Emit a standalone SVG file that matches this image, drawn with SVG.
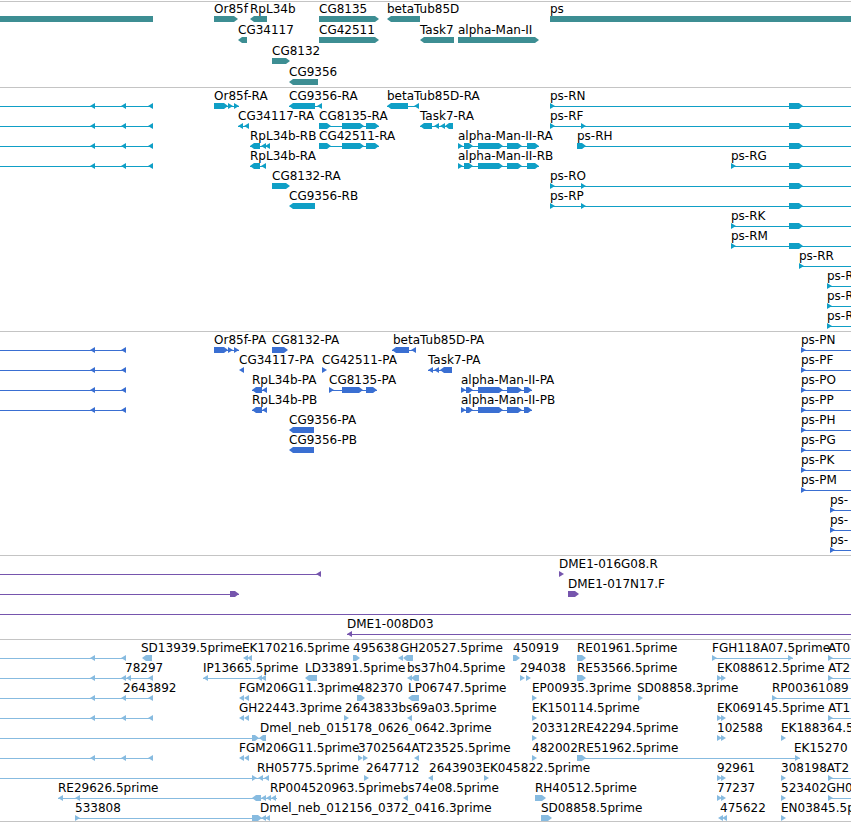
<svg xmlns="http://www.w3.org/2000/svg" xmlns:xlink="http://www.w3.org/1999/xlink" width="851" height="823" viewBox="0 0 851 823">
<style>
text{font-family:"DejaVu Sans","Liberation Sans",sans-serif;font-size:12px;fill:#000}
.g{fill:#3d8e93}
.t{fill:#0f9fc6}.tk{stroke:#0f9fc6;fill:none;shape-rendering:crispEdges}
.p{fill:#3a6fd2}.pk{stroke:#3a6fd2;fill:none;shape-rendering:crispEdges}
.c{fill:#7655ad}.ck{stroke:#7655ad;fill:none;shape-rendering:crispEdges}
.e{fill:#87bbe0}.ek{stroke:#87bbe0;fill:none;shape-rendering:crispEdges}
.sep{stroke:#c4c4c4;fill:none}
</style>
<defs>
<path id="rt" d="M0 -3L5 0L0 3Z"/>
<path id="lt" d="M5 -3L0 0L5 3Z"/>
</defs>
<rect width="851" height="823" fill="#fff"/>
<g id="separators">
<path class="sep" d="M0 1.5H851M0 87.5H851M0 331.5H851M0 555.5H851M0 639.5H851M0 821.5H851"/>
</g>

<!-- Gene track -->
<g id="genes">
<g id="gene-left"><path class="g" d="M0 16H153V22H0Z"/></g>
<g id="Or85f"><text x="214" y="13">Or85f</text><path class="g" d="M214 16H234L238 19L234 22H214Z"/></g>
<g id="RpL34b"><text x="250" y="13">RpL34b</text><path class="g" d="M267 16H254L250 19L254 22H267Z"/></g>
<g id="CG8135"><text x="319" y="13">CG8135</text><path class="g" d="M319 16H375L379 19L375 22H319Z"/></g>
<g id="betaTub85D"><text x="387" y="13">betaTub85D</text><path class="g" d="M420 16H391L387 19L391 22H420Z"/></g>
<g id="ps"><text x="550" y="13">ps</text><path class="g" d="M550 16H851V22H550Z"/></g>
<g id="CG34117"><text x="238" y="34">CG34117</text><path class="g" d="M247 37H242L238 40L242 43H247Z"/></g>
<g id="CG42511"><text x="319" y="34">CG42511</text><path class="g" d="M319 37H375L379 40L375 43H319Z"/></g>
<g id="Task7"><text x="420" y="34">Task7</text><path class="g" d="M454 37H424L420 40L424 43H454Z"/></g>
<g id="alpha-Man-II"><text x="458" y="34">alpha-Man-II</text><path class="g" d="M458 37H535L539 40L535 43H458Z"/></g>
<g id="CG8132"><text x="272" y="55">CG8132</text><path class="g" d="M272 58H286L290 61L286 64H272Z"/></g>
<g id="CG9356"><text x="289" y="76">CG9356</text><path class="g" d="M318 79H293L289 82L293 85H318Z"/></g>
</g>

<!-- Transcript track -->
<g id="transcripts">
<g id="tx-left1"><path class="tk" d="M0 106H153"/><use href="#lt" x="90" y="106" class="t"/><use href="#lt" x="121" y="106" class="t"/><use href="#lt" x="148" y="106" class="t"/></g>
<g id="tx-left2"><path class="tk" d="M0 126H153"/><use href="#lt" x="90" y="126" class="t"/><use href="#lt" x="121" y="126" class="t"/><use href="#lt" x="148" y="126" class="t"/></g>
<g id="tx-left3"><path class="tk" d="M0 146H153"/><use href="#lt" x="90" y="146" class="t"/><use href="#lt" x="121" y="146" class="t"/><use href="#lt" x="148" y="146" class="t"/></g>
<g id="tx-left4"><path class="tk" d="M0 166H153"/><use href="#lt" x="90" y="166" class="t"/><use href="#lt" x="121" y="166" class="t"/><use href="#lt" x="148" y="166" class="t"/></g>

<g id="Or85f-RA"><text x="214" y="100">Or85f-RA</text><path class="tk" d="M214 106H239"/><path class="t" d="M214 103H224L228 106L224 109H214Z"/><use href="#rt" x="228" y="106" class="t"/><use href="#rt" x="234" y="106" class="t"/></g>
<g id="CG9356-RA"><text x="289" y="100">CG9356-RA</text><path class="tk" d="M289 106H321"/><path class="t" d="M315 103H293L289 106L293 109H315Z"/><use href="#lt" x="317" y="106" class="t"/></g>
<g id="betaTub85D-RA"><text x="387" y="100">betaTub85D-RA</text><path class="tk" d="M387 106H419"/><path class="t" d="M408 103H391L387 106L391 109H408Z"/><use href="#lt" x="414" y="106" class="t"/></g>
<g id="ps-RN"><text x="550" y="100">ps-RN</text><path class="tk" d="M550 106H851"/><use href="#rt" x="550" y="106" class="t"/><path class="t" d="M789 103H799L803 106L799 109H789Z"/></g>

<g id="CG34117-RA"><text x="238" y="120">CG34117-RA</text><path class="tk" d="M238 126H249"/><use href="#lt" x="238" y="126" class="t"/><use href="#lt" x="244" y="126" class="t"/></g>
<g id="CG8135-RA"><text x="319" y="120">CG8135-RA</text><path class="tk" d="M319 126H379"/><path class="t" d="M319 123H327L331 126L327 129H319ZM342 123H360L364 126L360 129H342ZM366 123H375L379 126L375 129H366Z"/></g>
<g id="Task7-RA"><text x="420" y="120">Task7-RA</text><path class="tk" d="M420 126H453"/><path class="t" d="M432 123H424L420 126L424 129H432ZM453 123H449L445 126L449 129H453Z"/><use href="#lt" x="434" y="126" class="t"/><use href="#lt" x="440" y="126" class="t"/></g>
<g id="ps-RF"><text x="550" y="120">ps-RF</text><path class="tk" d="M550 126H851"/><use href="#rt" x="550" y="126" class="t"/><use href="#rt" x="581" y="126" class="t"/><path class="t" d="M789 123H799L803 126L799 129H789Z"/></g>

<g id="RpL34b-RB"><text x="250" y="140">RpL34b-RB</text><path class="tk" d="M250 146H270"/><path class="t" d="M260 143H254L250 146L254 149H260Z"/><use href="#lt" x="261" y="146" class="t"/><use href="#lt" x="265" y="146" class="t"/></g>
<g id="CG42511-RA"><text x="319" y="140">CG42511-RA</text><path class="tk" d="M319 146H379"/><path class="t" d="M319 143H327L331 146L327 149H319ZM342 143H360L364 146L360 149H342ZM366 143H375L379 146L375 149H366Z"/></g>
<g id="alpha-Man-II-RA"><text x="458" y="140">alpha-Man-II-RA</text><path class="tk" d="M458 146H539"/><use href="#rt" x="458" y="146" class="t"/><path class="t" d="M464 143H469L473 146L469 149H464ZM478 143H499L503 146L499 149H478ZM507 143H518L522 146L518 149H507ZM527 143H535L539 146L535 149H527Z"/></g>
<g id="ps-RH"><text x="577" y="140">ps-RH</text><path class="tk" d="M577 146H851"/><path class="t" d="M577 143H582L586 146L582 149H577ZM789 143H799L803 146L799 149H789Z"/></g>

<g id="RpL34b-RA"><text x="250" y="160">RpL34b-RA</text><path class="tk" d="M250 166H266"/><path class="t" d="M260 163H254L250 166L254 169H260Z"/><use href="#lt" x="261" y="166" class="t"/></g>
<g id="alpha-Man-II-RB"><text x="458" y="160">alpha-Man-II-RB</text><path class="tk" d="M458 166H539"/><use href="#rt" x="458" y="166" class="t"/><path class="t" d="M464 163H469L473 166L469 169H464ZM478 163H499L503 166L499 169H478ZM507 163H518L522 166L518 169H507ZM527 163H535L539 166L535 169H527Z"/></g>
<g id="ps-RG"><text x="731" y="160">ps-RG</text><path class="tk" d="M731 166H851"/><use href="#rt" x="731" y="166" class="t"/><path class="t" d="M789 163H799L803 166L799 169H789Z"/></g>

<g id="CG8132-RA"><text x="272" y="180">CG8132-RA</text><path class="t" d="M272 183H286L290 186L286 189H272Z"/></g>
<g id="ps-RO"><text x="550" y="180">ps-RO</text><path class="tk" d="M550 186H851"/><use href="#rt" x="550" y="186" class="t"/><use href="#rt" x="581" y="186" class="t"/><path class="t" d="M789 183H799L803 186L799 189H789Z"/></g>
<g id="CG9356-RB"><text x="289" y="200">CG9356-RB</text><path class="t" d="M315 203H293L289 206L293 209H315Z"/></g>
<g id="ps-RP"><text x="550" y="200">ps-RP</text><path class="tk" d="M550 206H851"/><use href="#rt" x="550" y="206" class="t"/><use href="#rt" x="581" y="206" class="t"/><path class="t" d="M789 203H799L803 206L799 209H789Z"/></g>
<g id="ps-RK"><text x="731" y="220">ps-RK</text><path class="tk" d="M731 226H851"/><use href="#rt" x="731" y="226" class="t"/><path class="t" d="M789 223H799L803 226L799 229H789Z"/></g>
<g id="ps-RM"><text x="731" y="240">ps-RM</text><path class="tk" d="M731 246H851"/><use href="#rt" x="731" y="246" class="t"/><path class="t" d="M789 243H799L803 246L799 249H789Z"/></g>
<g id="ps-RR"><text x="799" y="260">ps-RR</text><path class="tk" d="M799 266H851"/><use href="#rt" x="799" y="266" class="t"/></g>
<g id="ps-R1"><text x="827" y="280">ps-R</text><path class="tk" d="M827 286H851"/><use href="#rt" x="827" y="286" class="t"/></g>
<g id="ps-R2"><text x="827" y="300">ps-R</text><path class="tk" d="M827 306H851"/><use href="#rt" x="827" y="306" class="t"/></g>
<g id="ps-R3"><text x="827" y="320">ps-R</text><path class="tk" d="M827 326H851"/><use href="#rt" x="827" y="326" class="t"/></g>
</g>

<!-- Protein track -->
<g id="proteins">
<g id="pr-left1"><path class="pk" d="M0 350H126"/><use href="#lt" x="90" y="350" class="p"/><use href="#lt" x="121" y="350" class="p"/></g>
<g id="pr-left2"><path class="pk" d="M0 370H126"/><use href="#lt" x="90" y="370" class="p"/><use href="#lt" x="121" y="370" class="p"/></g>
<g id="pr-left3"><path class="pk" d="M0 390H126"/><use href="#lt" x="90" y="390" class="p"/><use href="#lt" x="121" y="390" class="p"/></g>
<g id="pr-left4"><path class="pk" d="M0 410H126"/><use href="#lt" x="90" y="410" class="p"/><use href="#lt" x="121" y="410" class="p"/></g>

<g id="Or85f-PA"><text x="214" y="344">Or85f-PA</text><path class="pk" d="M214 350H239"/><path class="p" d="M214 347H224L228 350L224 353H214Z"/><use href="#rt" x="228" y="350" class="p"/><use href="#rt" x="234" y="350" class="p"/></g>
<g id="CG8132-PA"><text x="272" y="344">CG8132-PA</text><path class="p" d="M272 347H284L288 350L284 353H272Z"/></g>
<g id="betaTub85D-PA"><text x="393" y="344">betaTub85D-PA</text><path class="pk" d="M392 350H416"/><path class="p" d="M409 347H396L392 350L396 353H409Z"/><use href="#lt" x="411" y="350" class="p"/></g>
<g id="ps-PN"><text x="801" y="344">ps-PN</text><path class="pk" d="M801 350H851"/><use href="#rt" x="801" y="350" class="p"/></g>

<g id="CG34117-PA"><text x="239" y="364">CG34117-PA</text><use href="#lt" x="239" y="370" class="p"/></g>
<g id="CG42511-PA"><text x="322" y="364">CG42511-PA</text><use href="#rt" x="322" y="370" class="p"/></g>
<g id="Task7-PA"><text x="428" y="364">Task7-PA</text><path class="pk" d="M428 370H452"/><use href="#lt" x="428" y="370" class="p"/><use href="#lt" x="434" y="370" class="p"/><path class="p" d="M452 367H444L440 370L444 373H452Z"/></g>
<g id="ps-PF"><text x="801" y="364">ps-PF</text><path class="pk" d="M801 370H851"/><use href="#rt" x="801" y="370" class="p"/></g>

<g id="RpL34b-PA"><text x="252" y="384">RpL34b-PA</text><path class="pk" d="M252 390H267"/><path class="p" d="M262 387H256L252 390L256 393H262Z"/><use href="#lt" x="262" y="390" class="p"/></g>
<g id="CG8135-PA"><text x="329" y="384">CG8135-PA</text><path class="pk" d="M329 390H377"/><use href="#rt" x="329" y="390" class="p"/><path class="p" d="M342 387H359L363 390L359 393H342ZM366 387H373L377 390L373 393H366Z"/></g>
<g id="alpha-Man-II-PA"><text x="461" y="384">alpha-Man-II-PA</text><path class="pk" d="M461 390H532"/><use href="#rt" x="461" y="390" class="p"/><path class="p" d="M466 387H469L473 390L469 393H466ZM478 387H499L503 390L499 393H478ZM507 387H518L522 390L518 393H507ZM524 387H528L532 390L528 393H524Z"/></g>
<g id="ps-PO"><text x="801" y="384">ps-PO</text><path class="pk" d="M801 390H851"/><use href="#rt" x="801" y="390" class="p"/></g>

<g id="RpL34b-PB"><text x="252" y="404">RpL34b-PB</text><path class="pk" d="M252 410H267"/><path class="p" d="M262 407H256L252 410L256 413H262Z"/><use href="#lt" x="262" y="410" class="p"/></g>
<g id="alpha-Man-II-PB"><text x="461" y="404">alpha-Man-II-PB</text><path class="pk" d="M461 410H532"/><use href="#rt" x="461" y="410" class="p"/><path class="p" d="M466 407H469L473 410L469 413H466ZM478 407H499L503 410L499 413H478ZM507 407H518L522 410L518 413H507ZM524 407H528L532 410L528 413H524Z"/></g>
<g id="ps-PP"><text x="801" y="404">ps-PP</text><path class="pk" d="M801 410H851"/><use href="#rt" x="801" y="410" class="p"/></g>

<g id="CG9356-PA"><text x="289" y="424">CG9356-PA</text><path class="p" d="M314 427H293L289 430L293 433H314Z"/></g>
<g id="ps-PH"><text x="801" y="424">ps-PH</text><path class="pk" d="M801 430H851"/><use href="#rt" x="801" y="430" class="p"/></g>
<g id="CG9356-PB"><text x="289" y="444">CG9356-PB</text><path class="p" d="M314 447H293L289 450L293 453H314Z"/></g>
<g id="ps-PG"><text x="801" y="444">ps-PG</text><path class="pk" d="M801 450H851"/><use href="#rt" x="801" y="450" class="p"/></g>
<g id="ps-PK"><text x="801" y="464">ps-PK</text><path class="pk" d="M801 470H851"/><use href="#rt" x="801" y="470" class="p"/></g>
<g id="ps-PM"><text x="801" y="484">ps-PM</text><path class="pk" d="M801 490H851"/><use href="#rt" x="801" y="490" class="p"/></g>
<g id="ps-P1"><text x="830" y="504">ps-</text><path class="pk" d="M830 510H851"/><use href="#rt" x="830" y="510" class="p"/></g>
<g id="ps-P2"><text x="830" y="524">ps-</text><path class="pk" d="M830 530H851"/><use href="#rt" x="830" y="530" class="p"/></g>
<g id="ps-P3"><text x="830" y="544">ps-</text><path class="pk" d="M830 550H851"/><use href="#rt" x="830" y="550" class="p"/></g>
</g>

<!-- Clone track -->
<g id="clones">
<g id="clone-1"><path class="ck" d="M0 574H321"/><use href="#lt" x="316" y="574" class="c"/></g>
<g id="DME1-016G08.R"><text x="559" y="568">DME1-016G08.R</text><use href="#rt" x="559" y="574" class="c"/></g>
<g id="clone-2"><path class="ck" d="M0 594H239"/><path class="c" d="M230 591H235L239 594L235 597H230Z"/></g>
<g id="DME1-017N17.F"><text x="568" y="588">DME1-017N17.F</text><path class="c" d="M568 591H575L579 594L575 597H568Z"/></g>
<g id="clone-3"><path class="ck" d="M0 614H851"/></g>
<g id="DME1-008D03"><text x="347" y="628">DME1-008D03</text><path class="ck" d="M347 634H851"/><use href="#lt" x="347" y="634" class="c"/></g>
</g>

<!-- EST track -->
<g id="ests">
<!-- row 1 -->
<g id="est-left1"><path class="ek" d="M0 658H126"/><use href="#lt" x="90" y="658" class="e"/><use href="#lt" x="121" y="658" class="e"/></g>
<g id="SD13939.5prime"><text x="141" y="652">SD13939.5prime</text><path class="e" d="M152 655H146L142 658L146 661H152Z"/></g>
<g id="EK170216.5prime"><text x="242" y="652">EK170216.5prime</text><use href="#lt" x="243" y="658" class="e"/><use href="#lt" x="247" y="658" class="e"/></g>
<g id="e495638"><text x="353" y="652">495638</text><path class="e" d="M353 655H356L360 658L356 661H353Z"/></g>
<g id="GH20527.5prime"><text x="400" y="652">GH20527.5prime</text><use href="#lt" x="398" y="658" class="e"/><path class="e" d="M413 655H407L403 658L407 661H413Z"/></g>
<g id="e450919"><text x="513" y="652">450919</text><path class="e" d="M513 655H516L520 658L516 661H513Z"/></g>
<g id="RE01961.5prime"><text x="577" y="652">RE01961.5prime</text><path class="e" d="M577 655H582L586 658L582 661H577Z"/></g>
<g id="FGH118A07.5prime"><text x="712" y="652">FGH118A07.5prime</text><path class="ek" d="M712 658H793"/><use href="#rt" x="712" y="658" class="e"/><use href="#rt" x="788" y="658" class="e"/></g>
<g id="AT0"><text x="828" y="652">AT0</text><path class="ek" d="M828 658H851"/><use href="#rt" x="828" y="658" class="e"/></g>
<!-- row 2 -->
<g id="est-left2"><path class="ek" d="M0 678H153"/><use href="#lt" x="90" y="678" class="e"/><use href="#lt" x="121" y="678" class="e"/><use href="#lt" x="126" y="678" class="e"/><use href="#lt" x="148" y="678" class="e"/></g>
<g id="e78297"><text x="125" y="672">78297</text></g>
<g id="IP13665.5prime"><text x="203" y="672">IP13665.5prime</text><path class="ek" d="M203 678H266"/><use href="#lt" x="203" y="678" class="e"/><use href="#lt" x="257" y="678" class="e"/><use href="#lt" x="261" y="678" class="e"/></g>
<g id="LD33891.5prime"><text x="305" y="672">LD33891.5prime</text><path class="e" d="M317 675H309L305 678L309 681H317Z"/></g>
<g id="bs37h04.5prime"><text x="407" y="672">bs37h04.5prime</text><use href="#lt" x="407" y="678" class="e"/><path class="e" d="M419 675H415L411 678L415 681H419Z"/></g>
<g id="e294038"><text x="520" y="672">294038</text><use href="#rt" x="520" y="678" class="e"/><use href="#rt" x="526" y="678" class="e"/></g>
<g id="RE53566.5prime"><text x="577" y="672">RE53566.5prime</text><path class="e" d="M577 675H582L586 678L582 681H577Z"/></g>
<g id="EK088612.5prime"><text x="717" y="672">EK088612.5prime</text><use href="#rt" x="717" y="678" class="e"/><use href="#rt" x="721" y="678" class="e"/></g>
<g id="AT2a"><text x="828" y="672">AT2</text><path class="ek" d="M828 678H851"/><use href="#rt" x="828" y="678" class="e"/></g>
<!-- row 3 -->
<g id="est-left3"><path class="ek" d="M0 698H153"/><use href="#lt" x="90" y="698" class="e"/><use href="#lt" x="121" y="698" class="e"/><use href="#lt" x="148" y="698" class="e"/></g>
<g id="e2643892"><text x="123" y="692">2643892</text></g>
<g id="FGM206G11.3prime"><text x="239" y="692">FGM206G11.3prime</text><use href="#lt" x="239" y="698" class="e"/><use href="#lt" x="244" y="698" class="e"/></g>
<g id="e482370"><text x="357" y="692">482370</text><path class="e" d="M357 695H361L365 698L361 701H357Z"/></g>
<g id="LP06747.5prime"><text x="408" y="692">LP06747.5prime</text><path class="e" d="M419 695H412L408 698L412 701H419Z"/></g>
<g id="EP00935.3prime"><text x="532" y="692">EP00935.3prime</text><use href="#rt" x="532" y="698" class="e"/></g>
<g id="SD08858.3prime"><text x="637" y="692">SD08858.3prime</text><use href="#rt" x="638" y="698" class="e"/></g>
<g id="RP00361089"><text x="772" y="692">RP00361089</text><path class="ek" d="M772 698H851"/><use href="#rt" x="772" y="698" class="e"/></g>
<!-- row 4 -->
<g id="est-left4"><path class="ek" d="M0 718H153"/><use href="#lt" x="90" y="718" class="e"/><use href="#lt" x="121" y="718" class="e"/><use href="#lt" x="148" y="718" class="e"/></g>
<g id="GH22443.3prime"><text x="239" y="712">GH22443.3prime</text><use href="#lt" x="239" y="718" class="e"/><use href="#lt" x="244" y="718" class="e"/></g>
<g id="e2643833"><text x="345" y="712">2643833</text><use href="#rt" x="344" y="718" class="e"/></g>
<g id="bs69a03.5prime"><text x="398.4" y="712">bs69a03.5prime</text><use href="#lt" x="407" y="718" class="e"/></g>
<g id="EK150114.5prime"><text x="532" y="712">EK150114.5prime</text><use href="#rt" x="532" y="718" class="e"/></g>
<g id="EK069145.5prime"><text x="717" y="712">EK069145.5prime</text><use href="#rt" x="717" y="718" class="e"/><use href="#rt" x="721" y="718" class="e"/></g>
<g id="AT1"><text x="828" y="712">AT1</text><path class="ek" d="M828 718H851"/><use href="#rt" x="828" y="718" class="e"/></g>
<!-- row 5 -->
<g id="est-left5"><path class="ek" d="M0 738H266"/><path class="e" d="M252 735H255L259 738L255 741H252ZM266 735H263L259 738L263 741H266Z"/></g>
<g id="Dmel_neb_015178_0626_0642.3prime"><text x="260" y="732">Dmel_neb_015178_0626_0642.3prime</text></g>
<g id="e203312"><text x="532" y="732">203312</text><use href="#rt" x="532" y="738" class="e"/></g>
<g id="RE42294.5prime"><text x="577.8" y="732">RE42294.5prime</text></g>
<g id="e102588"><text x="717" y="732">102588</text><use href="#rt" x="717" y="738" class="e"/><use href="#rt" x="721" y="738" class="e"/></g>
<g id="EK188364"><text x="781" y="732">EK188364.5</text><use href="#rt" x="781" y="738" class="e"/></g>
<!-- row 6 -->
<g id="est-left6"><path class="ek" d="M0 758H153"/><use href="#lt" x="90" y="758" class="e"/><use href="#lt" x="121" y="758" class="e"/><use href="#lt" x="148" y="758" class="e"/></g>
<g id="FGM206G11.5prime"><text x="239" y="752">FGM206G11.5prime</text><use href="#lt" x="239" y="758" class="e"/><use href="#lt" x="244" y="758" class="e"/></g>
<g id="e3702564"><text x="358" y="752">3702564</text><use href="#rt" x="358" y="758" class="e"/><use href="#rt" x="363" y="758" class="e"/></g>
<g id="AT23525.5prime"><text x="411.4" y="752">AT23525.5prime</text><use href="#lt" x="414" y="758" class="e"/></g>
<g id="e482002"><text x="532" y="752">482002</text><use href="#rt" x="532" y="758" class="e"/></g>
<g id="RE51962.5prime"><text x="577.8" y="752">RE51962.5prime</text><path class="ek" d="M577 758H800"/><path class="e" d="M577 755H582L586 758L582 761H577Z"/><use href="#rt" x="795" y="758" class="e"/></g>
<g id="EK15270"><text x="794" y="752">EK15270</text></g>
<!-- row 7 -->
<g id="est-left7"><path class="ek" d="M0 778H269"/><use href="#rt" x="252" y="778" class="e"/><use href="#lt" x="258" y="778" class="e"/><use href="#lt" x="264" y="778" class="e"/></g>
<g id="RH05775.5prime"><text x="257" y="772">RH05775.5prime</text></g>
<g id="e2647712"><text x="366" y="772">2647712</text><use href="#rt" x="364" y="778" class="e"/></g>
<g id="e2643903"><text x="429" y="772">2643903</text><use href="#lt" x="428" y="778" class="e"/></g>
<g id="EK045822.5prime"><text x="482.4" y="772">EK045822.5prime</text><use href="#rt" x="484" y="778" class="e"/></g>
<g id="e92961"><text x="717" y="772">92961</text><use href="#rt" x="717" y="778" class="e"/><use href="#rt" x="721" y="778" class="e"/></g>
<g id="e308198"><text x="781" y="772">308198</text><use href="#rt" x="781" y="778" class="e"/></g>
<g id="AT2b"><text x="826.8" y="772">AT2</text><path class="ek" d="M828 778H851"/><use href="#rt" x="828" y="778" class="e"/></g>
<!-- row 8 -->
<g id="RE29626.5prime"><text x="58" y="792">RE29626.5prime</text><path class="ek" d="M58 798H277"/><use href="#lt" x="58" y="798" class="e"/><use href="#lt" x="75" y="798" class="e"/><path class="e" d="M261 795H256L252 798L256 801H261Z"/><use href="#lt" x="261" y="798" class="e"/><use href="#lt" x="266" y="798" class="e"/><use href="#lt" x="271" y="798" class="e"/></g>
<g id="RP004520963.5prime"><text x="270" y="792">RP004520963.5prime</text></g>
<g id="bs74e08.5prime"><text x="400.7" y="792">bs74e08.5prime</text><use href="#lt" x="403" y="798" class="e"/></g>
<g id="RH40512.5prime"><text x="535" y="792">RH40512.5prime</text><path class="e" d="M535 795H542L546 798L542 801H535Z"/></g>
<g id="e77237"><text x="717" y="792">77237</text><use href="#rt" x="717" y="798" class="e"/><use href="#rt" x="721" y="798" class="e"/></g>
<g id="e523402"><text x="781" y="792">523402</text><use href="#rt" x="781" y="798" class="e"/></g>
<g id="GH0"><text x="826.8" y="792">GH0</text><path class="ek" d="M828 798H851"/><use href="#rt" x="828" y="798" class="e"/></g>
<!-- row 9 -->
<g id="e533808"><text x="75" y="812">533808</text><path class="ek" d="M75 818H270"/><use href="#rt" x="75" y="818" class="e"/><path class="e" d="M252 815H258L262 818L258 821H252Z"/><use href="#lt" x="261" y="818" class="e"/><use href="#lt" x="265" y="818" class="e"/></g>
<g id="Dmel_neb_012156_0372_0416.3prime"><text x="260" y="812">Dmel_neb_012156_0372_0416.3prime</text></g>
<g id="SD08858.5prime"><text x="541" y="812">SD08858.5prime</text><path class="e" d="M541 815H548L552 818L548 821H541Z"/></g>
<g id="e475622"><text x="720" y="812">475622</text><use href="#lt" x="718" y="818" class="e"/><use href="#lt" x="722" y="818" class="e"/></g>
<g id="EN03845"><text x="781" y="812">EN03845.5p</text><use href="#rt" x="781" y="818" class="e"/></g>
</g>
</svg>
